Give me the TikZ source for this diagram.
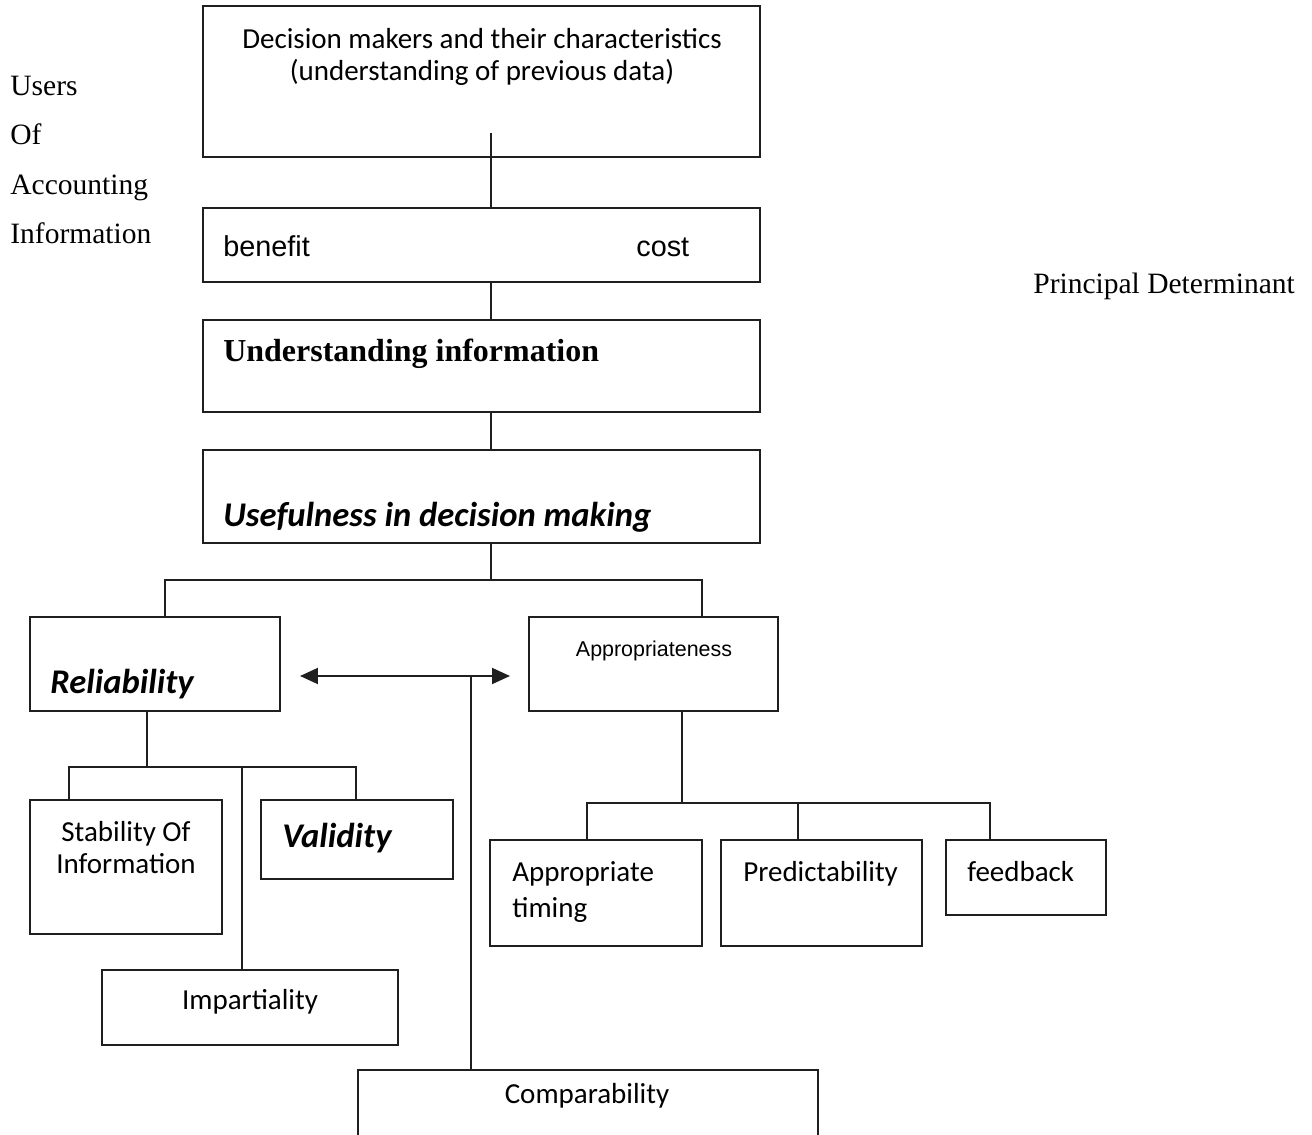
\documentclass[tikz,border=0pt]{standalone}
\usepackage{fontspec}
\setmainfont{Liberation Serif}
\newfontfamily\calibri{Carlito}
\newfontfamily\arial{Liberation Sans}
\usetikzlibrary{arrows.meta}
\begin{document}
\begin{tikzpicture}[x=0.02cm, y=-0.02cm,
    box/.style ={draw=black!88, line width=1.1pt, inner sep=0pt, outer sep=0pt},
    link/.style ={draw=black!88, line width=1.1pt},
    txt/.style ={anchor=base west, inner sep=0pt},
    ctxt/.style ={anchor=base, inner sep=0pt},
    cal/.style ={font=\calibri\fontsize{16.5}{20}\selectfont},
    calbi/.style ={font=\calibri\bfseries\itshape\fontsize{19.7}{24}\selectfont},
    ari/.style ={font=\arial\fontsize{16.4}{20}\selectfont},
    tms/.style ={font=\fontsize{16.8}{20}\selectfont}]
   \useasboundingbox (0,0) rectangle (1312,1135);

   % boxes
   \node[box, minimum width=11.14cm, minimum height=3.02cm] (dm)   at (481.5,81.5) {};
   \node[box, minimum width=11.14cm, minimum height=1.48cm] (bc)   at (481.5,245)  {};
   \node[box, minimum width=11.14cm, minimum height=1.84cm] (ui)   at (481.5,366)  {};
   \node[box, minimum width=11.14cm, minimum height=1.86cm] (ud)   at (481.5,496.5) {};
   \node[box, minimum width=5cm,     minimum height=1.88cm] (rel)  at (155,664)    {};
   \node[box, minimum width=4.98cm,  minimum height=1.88cm] (app)  at (653.5,664)  {};
   \node[box, minimum width=3.84cm,  minimum height=2.68cm] (stab) at (126,867)    {};
   \node[box, minimum width=3.84cm,  minimum height=1.58cm] (val)  at (357,839.5)  {};
   \node[box, minimum width=5.92cm,  minimum height=1.5cm]  (imp)  at (250,1007.5) {};
   \node[box, minimum width=9.2cm,   minimum height=1.6cm]  (comp) at (588,1110)   {};
   \node[box, minimum width=4.24cm,  minimum height=2.12cm] (tim)  at (596,893)    {};
   \node[box, minimum width=4.02cm,  minimum height=2.12cm] (pred) at (821.5,893)  {};
   \node[box, minimum width=3.2cm,   minimum height=1.5cm]  (fb)   at (1026,877.5) {};

   % texts
   \node[ctxt, cal] (dmA) at (482,49) {Decision makers and their characteristics};
   \node[ctxt, cal] (dmB) at (482,81) {(understanding of previous data)};
   \node[txt, ari] (ben) at (223,256) {benefit};
   \node[txt, ari] (cost) at (636,256) {cost};
   \node[txt, font=\bfseries\fontsize{18.2}{22}\selectfont] (uiT) at (223,361) {Understanding information};
   \node[txt, calbi] (udT) at (223,526) {Usefulness in decision making};
   \node[txt, calbi] (relT) at (50,693) {Reliability};
   \node[ctxt, font=\arial\fontsize{12.2}{15}\selectfont] (appT) at (654,656) {Appropriateness};
   \node[ctxt, cal] (stabA) at (126,841) {Stability Of};
   \node[ctxt, cal] (stabB) at (126,873) {Information};
   \node[txt, calbi] (valT) at (282,847) {Validity};
   \node[ctxt, cal] (impT) at (250,1009) {Impartiality};
   \node[ctxt, cal] (compT) at (587,1103) {Comparability};
   \node[txt, cal] (timA) at (512,881) {Appropriate};
   \node[txt, cal] (timB) at (512,917) {timing};
   \node[txt, cal] (predT) at (743,881) {Predictability};
   \node[txt, cal] (fbT) at (967,881) {feedback};
   \node[txt, tms] (us1) at (10,96)  {Users};
   \node[txt, tms] (us2) at (10,145) {Of};
   \node[txt, tms] (us3) at (10,195) {Accounting};
   \node[txt, tms] (us4) at (10,244) {Information};
   \node[txt, tms] (pd) at (1033,294) {Principal Determinant};

   % connectors
   \coordinate (spine) at (491,133);
   \coordinate (forkA) at (491,580);
   \coordinate (forkB) at (147,767);
   \coordinate (forkC) at (682,803);
   \coordinate (arrL) at (300,676);
   \coordinate (arrR) at (510,676);
   \coordinate (arrJ) at (471,676);

   \draw[link] (spine) -- (spine |- bc.north);
   \draw[link] (spine |- bc.south) -- (spine |- ui.north);
   \draw[link] (spine |- ui.south) -- (spine |- ud.north);
   \draw[link] (spine |- ud.south) -- (forkA);
   \draw[link] ([xshift=0.2cm]rel.north) |- (forkA) -| ([xshift=0.97cm]app.north);
   \draw[link] ([xshift=-0.16cm]rel.south) -- (forkB);
   \draw[link] ([xshift=-1.14cm]stab.north) |- (forkB) -| ([xshift=-0.02cm]val.north);
   \draw[link] ([xshift=-0.16cm]imp.north) |- (forkB);
   \draw[link] ([xshift=0.57cm]app.south) -- (forkC);
   \draw[link] ([xshift=-0.18cm]tim.north) |- (forkC) -| ([xshift=-0.72cm]fb.north);
   \draw[link] ([xshift=-0.47cm]pred.north) |- (forkC);
   \draw[link, {Triangle[length=3.6mm, width=3.2mm]}-{Triangle[length=3.6mm, width=3.2mm]}] (arrL) -- (arrR);
   \draw[link] (arrJ) -- (arrJ |- comp.north);
 \end{tikzpicture}
\end{document}
